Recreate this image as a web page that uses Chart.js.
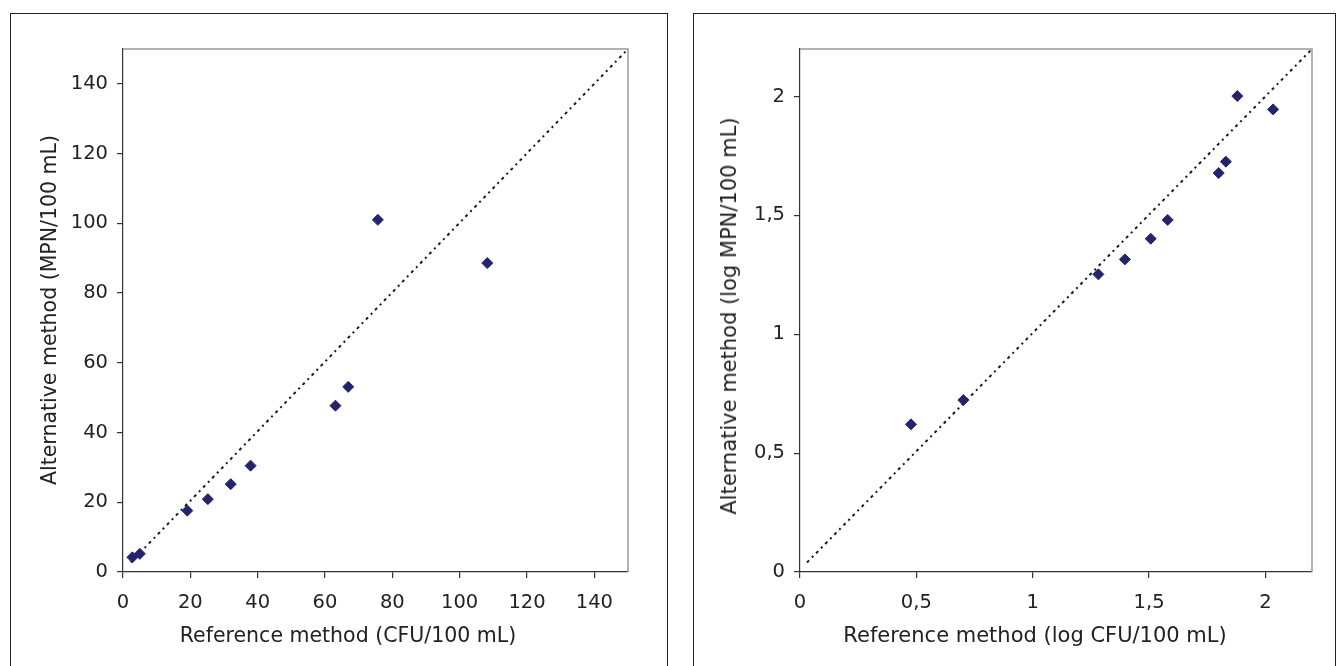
<!DOCTYPE html>
<html>
<head>
<meta charset="utf-8">
<script src="https://cdn.jsdelivr.net/npm/chart.js@4.4.1/dist/chart.umd.min.js"></script>
<style>
body{margin:0;background:#fff;width:1338px;height:666px;overflow:hidden;position:relative;font-family:"DejaVu Sans",Verdana,sans-serif;color:#222}
.frame{position:absolute;border:1.5px solid #222;box-sizing:border-box}
.box{position:absolute}
.xtitle,.ytitle{position:absolute;font-size:20.5px;white-space:nowrap;transform:translate(-50%,-50%)}
.ytitle{transform:translate(-50%,-50%) rotate(-90deg)}
.big{font-size:21px}
</style>
</head>
<body>
<div class="frame" style="left:10px;top:13px;width:658px;height:700px"></div>
<div class="frame" style="left:693px;top:13px;width:643px;height:700px"></div>

<div class="box" style="left:11px;top:14px;width:655px;height:652px"><canvas id="cfu"></canvas></div>
<div class="box" style="left:694px;top:14px;width:641px;height:652px"><canvas id="logcfu"></canvas></div>

<div class="xtitle" style="left:348px;top:635px">Reference method (CFU/100 mL)</div>
<div class="ytitle" style="left:49px;top:310px">Alternative method (MPN/100 mL)</div>
<div class="xtitle big" style="left:1035px;top:635px">Reference method (log CFU/100 mL)</div>
<div class="ytitle big" style="left:729px;top:316px">Alternative method (log MPN/100 mL)</div>

<script>
// left panel: counts
var refCfu = [2.8, 5.0, 19.1, 25.2, 32.0, 37.9, 63.1, 66.9, 75.7, 108.2];
var altMpn = [4.2, 5.2, 17.6, 20.9, 25.2, 30.5, 47.7, 53.1, 101.0, 88.6];
var lineCfuX = [2.3, 150];
var lineCfuY = [2.8, 150];
var cfuTicks = [0, 20, 40, 60, 80, 100, 120, 140];
var cfuTickLabels = ["0", "20", "40", "60", "80", "100", "120", "140"];

// right panel: log values
var refLog = [0.477, 0.702, 1.282, 1.396, 1.507, 1.580, 1.799, 1.830, 1.879, 2.033];
var altLog = [0.621, 0.723, 1.252, 1.315, 1.402, 1.481, 1.678, 1.726, 2.002, 1.946];
var lineLogX = [0.03, 2.2];
var lineLogY = [0.04, 2.2];
var logTicks = [0, 0.5, 1, 1.5, 2];
var logTickLabels = ["0", "0,5", "1", "1,5", "2"];

function toPoints(xs, ys) {
  return xs.map(function (x, i) { return {x: x, y: ys[i]}; });
}

// gray plot-area border on top and right, like the Excel original
var plotBorder = {
  id: 'plotBorder',
  beforeDatasetsDraw: function (chart) {
    var a = chart.chartArea, c = chart.ctx;
    c.save();
    c.strokeStyle = '#999';
    c.lineWidth = 1.5;
    c.beginPath();
    c.moveTo(a.left, a.top);
    c.lineTo(a.right, a.top);
    c.lineTo(a.right, a.bottom);
    c.stroke();
    c.restore();
  }
};

function axis(ticks, labels, max, size, isX) {
  return {
    type: 'linear',
    position: isX ? 'bottom' : 'left',
    min: 0,
    max: max,
    grid: {drawOnChartArea: false, drawTicks: true, tickLength: 6, color: '#333', lineWidth: 1.2},
    border: {display: true, color: '#333', width: 1.2},
    afterBuildTicks: function (s) { s.ticks = ticks.map(function (v) { return {value: v}; }); },
    afterFit: function (s) { if (isX) s.height = size; else s.width = size; },
    ticks: {
      autoSkip: false,
      maxRotation: 0,
      padding: isX ? 13 : 9,
      color: '#222',
      font: {family: 'DejaVu Sans', size: 19.5},
      callback: function (v, i) { return labels[i]; }
    }
  };
}

function makeChart(id, xs, ys, lx, ly, ticks, labels, max, yWidth, padRight) {
  new Chart(document.getElementById(id), {
    type: 'scatter',
    data: {
      datasets: [{
        data: toPoints(xs, ys),
        pointStyle: 'rectRot',
        pointRadius: 5.5,
        backgroundColor: '#24246e',
        borderColor: '#24246e',
        borderWidth: 1
      }, {
        data: toPoints(lx, ly),
        showLine: true,
        pointRadius: 0,
        borderColor: '#1a1a1a',
        borderWidth: 2,
        borderDash: [3, 4, 2, 4]
      }]
    },
    options: {
      responsive: true,
      maintainAspectRatio: false,
      animation: false,
      layout: {autoPadding: false, padding: {top: 35, right: padRight, left: 0, bottom: 0}},
      plugins: {legend: {display: false}, tooltip: {enabled: false}},
      scales: {
        x: axis(ticks, labels, max, 94, true),
        y: axis(ticks, labels, max, yWidth, false)
      }
    },
    plugins: [plotBorder]
  });
}

makeChart('cfu', refCfu, altMpn, lineCfuX, lineCfuY, cfuTicks, cfuTickLabels, 150, 112, 38);
makeChart('logcfu', refLog, altLog, lineLogX, lineLogY, logTicks, logTickLabels, 2.2, 106, 23);
</script>
</body>
</html>
